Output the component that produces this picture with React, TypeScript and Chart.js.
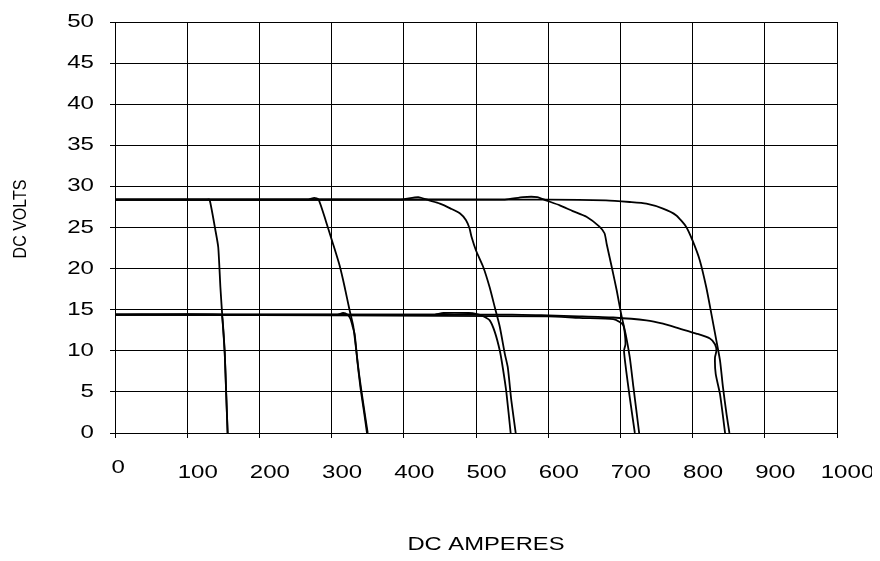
import React, { useEffect, useRef } from 'react';
import { Chart, registerables } from 'chart.js';

Chart.register(...registerables);

const FONT = '"Liberation Sans", Arial, Helvetica, sans-serif';

const xTickValues = [0, 100, 200, 300, 400, 500, 600, 700, 800, 900, 1000];
const yTickValues = [0, 5, 10, 15, 20, 25, 30, 35, 40, 45, 50];
const xTitle = 'DC AMPERES';
const yTitle = 'DC VOLTS';

// 28 V curves (amps / volts)
const amps28a = [0, 128, 131, 139, 143, 146, 149, 152, 154, 156];
const volts28a = [28.4, 28.4, 28.4, 24.7, 22.6, 17.7, 13.7, 9.7, 4.8, 0];
const amps28b = [0, 268, 276, 282, 292, 302, 311, 318, 325, 330, 338, 344, 350];
const volts28b = [28.4, 28.4, 28.6, 28.4, 25.8, 23.0, 20.4, 17.8, 14.9, 13.0, 7.2, 3.5, 0];
const amps28c = [0, 395, 420, 435, 450, 465, 478, 486, 491, 494, 500, 510, 519, 526, 533, 540, 544, 549, 555];
const volts28c = [28.4, 28.4, 28.7, 28.3, 27.9, 27.3, 26.7, 25.9, 24.9, 23.8, 22.2, 20.2, 17.7, 15.3, 12.9, 9.6, 8.0, 3.9, 0];
const amps28d = [0, 540, 565, 585, 597, 616, 634, 653, 671, 678, 681, 688, 695, 701, 708, 713, 718, 722, 726];
const volts28d = [28.4, 28.4, 28.7, 28.7, 28.3, 27.7, 27.0, 26.3, 25.1, 24.3, 23.0, 20.2, 17.3, 14.5, 11.7, 9.2, 5.6, 2.8, 0];
const amps28e = [0, 600, 680, 713, 736, 759, 777, 791, 800, 810, 819, 826, 833, 838, 842, 847, 851];
const volts28e = [28.4, 28.4, 28.3, 28.1, 27.9, 27.3, 26.5, 25.1, 23.4, 21.0, 17.7, 14.5, 11.2, 8.8, 5.6, 2.3, 0];

// 14 V curves (amps / volts)
const amps14a = [0, 147, 149, 152, 154, 156];
const volts14a = [14.4, 14.4, 13.7, 9.7, 4.8, 0];
const amps14b = [0, 308, 316, 322, 326, 329, 332, 336, 340, 345, 349];
const volts14b = [14.4, 14.4, 14.6, 14.4, 13.9, 13.0, 12.0, 8.5, 5.5, 2.5, 0];
const amps14c = [0, 440, 455, 490, 500, 510, 519, 526, 533, 537, 542, 548];
const volts14c = [14.4, 14.4, 14.6, 14.6, 14.5, 14.2, 13.7, 12.3, 10.0, 8.0, 5.0, 0];
const amps14d = [0, 600, 643, 690, 699, 704, 706, 707, 705, 708, 713, 720];
const volts14d = [14.4, 14.2, 14.0, 13.85, 13.5, 13.1, 12.2, 10.8, 10.0, 7.6, 4.3, 0];
const amps14e = [0, 550, 600, 643, 690, 736, 759, 782, 805, 824, 831, 833, 831, 832, 838, 845];
const volts14e = [14.4, 14.4, 14.3, 14.2, 14.05, 13.7, 13.3, 12.7, 12.1, 11.5, 10.8, 10.0, 9.2, 7.2, 4.7, 0];

const curves: [number[], number[]][] = [
  [amps28a, volts28a],
  [amps28b, volts28b],
  [amps28c, volts28c],
  [amps28d, volts28d],
  [amps28e, volts28e],
  [amps14a, volts14a],
  [amps14b, volts14b],
  [amps14c, volts14c],
  [amps14d, volts14d],
  [amps14e, volts14e],
];

const TICK_SIZE = 18.5;
const TICK_STRETCH = 1.3;
const TITLE_SIZE = 18;
const TITLE_STRETCH = 1.32;

function stretchedText(ctx: CanvasRenderingContext2D, text: string, x: number, y: number, sx: number) {
  ctx.save();
  ctx.translate(x, y);
  ctx.scale(sx, 1);
  ctx.fillText(text, 0, 0);
  ctx.restore();
}

const textPlugin = {
  id: 'textPlugin',
  afterDraw(chart: any) {
    const ctx: CanvasRenderingContext2D = chart.ctx;
    const xs = chart.scales.x;
    const ys = chart.scales.y;
    const area = chart.chartArea;
    ctx.save();
    ctx.fillStyle = '#000';
    ctx.textBaseline = 'alphabetic';

    // y tick labels
    ctx.font = `${TICK_SIZE}px ${FONT}`;
    ctx.textAlign = 'right';
    yTickValues.forEach((v) => {
      stretchedText(ctx, String(v), area.left - 21, ys.getPixelForValue(v) + 5, TICK_STRETCH);
    });

    // x tick labels
    ctx.textAlign = 'center';
    xTickValues.forEach((v, i) => {
      const px = xs.getPixelForValue(v);
      if (i === 0) {
        stretchedText(ctx, String(v), px + 3.3, area.bottom + 40, TICK_STRETCH);
      } else {
        stretchedText(ctx, String(v), px + 10.5, area.bottom + 45, TICK_STRETCH);
      }
    });

    // x title
    ctx.font = `${TITLE_SIZE}px ${FONT}`;
    stretchedText(ctx, xTitle, (area.left + area.right) / 2 + 10, 542, TITLE_STRETCH);

    // y title
    ctx.font = `16px ${FONT}`;
    ctx.translate(17.5, 211);
    ctx.scale(1.17, 1);
    ctx.rotate(-Math.PI / 2);
    ctx.fillText(yTitle, 0, 0);
    ctx.restore();
  },
};

export default function App() {
  const ref = useRef<HTMLCanvasElement | null>(null);

  useEffect(() => {
    if (!ref.current) return;
    const chart = new Chart(ref.current, {
      type: 'scatter',
      data: {
        datasets: curves.map(([a, v]) => ({
          data: a.map((x, i) => ({ x, y: v[i] })),
          showLine: true,
          borderColor: '#000',
          backgroundColor: '#000',
          borderWidth: 1.8,
          pointRadius: 0,
          pointHoverRadius: 0,
          fill: false,
          tension: 0.2,
        })),
      },
      options: {
        animation: false,
        responsive: true,
        maintainAspectRatio: false,
        layout: { padding: { top: 14, right: 35, left: 0, bottom: 0 } },
        plugins: {
          legend: { display: false },
          tooltip: { enabled: false },
        },
        scales: {
          x: {
            type: 'linear',
            min: 0,
            max: 1000,
            afterFit: (s: any) => {
              s.height = 120;
            },
            afterBuildTicks: (s: any) => {
              s.ticks = xTickValues.map((value) => ({ value }));
            },
            ticks: { display: false, stepSize: 100, autoSkip: false },
            grid: { color: '#000', lineWidth: 1, tickLength: 5, drawTicks: true },
            border: { color: '#000', width: 1 },
          },
          y: {
            type: 'linear',
            min: 0,
            max: 50,
            afterFit: (s: any) => {
              s.width = 107;
            },
            afterBuildTicks: (s: any) => {
              s.ticks = yTickValues.map((value) => ({ value }));
            },
            ticks: { display: false, stepSize: 5, autoSkip: false },
            grid: { color: '#000', lineWidth: 1, tickLength: 5, drawTicks: true },
            border: { color: '#000', width: 1 },
          },
        },
      },
      plugins: [textPlugin],
    });
    return () => chart.destroy();
  }, []);

  return (
    <div style={{ width: 864, height: 545, position: 'relative' }}>
      <canvas ref={ref} />
    </div>
  );
}
